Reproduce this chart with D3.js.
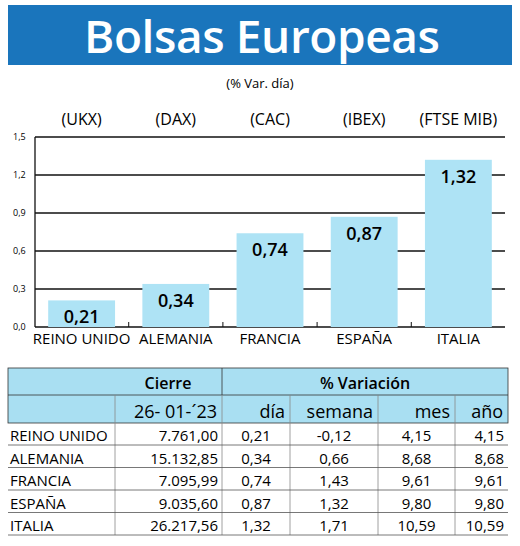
<!DOCTYPE html>
<html><head><meta charset="utf-8">
<script src="https://cdn.jsdelivr.net/npm/d3@7"></script>
<style>body{margin:0;background:#fff}svg{display:block}text{font-family:"Open Sans",sans-serif}.n{font-family:"Liberation Sans Narrow","Open Sans",sans-serif}</style>
</head><body>
<script>
const countries = ['REINO UNIDO', 'ALEMANIA', 'FRANCIA', 'ESPAÑA', 'ITALIA'];
const codes = ['(UKX)', '(DAX)', '(CAC)', '(IBEX)', '(FTSE MIB)'];
const dayVar = [0.21, 0.34, 0.74, 0.87, 1.32];
const yTicks = [0, 0.3, 0.6, 0.9, 1.2, 1.5];
const cierre = ['7.761,00', '15.132,85', '7.095,99', '9.035,60', '26.217,56'];
const dia = ['0,21', '0,34', '0,74', '0,87', '1,32'];
const semana = ['-0,12', '0,66', '1,43', '1,32', '1,71'];
const mes = ['4,15', '8,68', '9,61', '9,80', '10,59'];
const anio = ['4,15', '8,68', '9,61', '9,80', '10,59'];

const fmt = v => d3.format('.2f')(v).replace('.', ',');
const svg = d3.select('body').append('svg').attr('width', 520).attr('height', 546);

// header
svg.append('rect').attr('x', 8).attr('y', 5).attr('width', 504).attr('height', 60).attr('fill', '#1a75bc');
svg.append('text').attr('x', 262).attr('y', 53).attr('text-anchor', 'middle').attr('fill', '#fff')
  .attr('font-size', 46).attr('font-weight', 600).attr('textLength', 356).text('Bolsas Europeas');
svg.append('text').attr('x', 260).attr('y', 88).attr('text-anchor', 'middle').attr('font-size', 13).text('(% Var. día)');

const x = d3.scaleBand().domain(countries).range([35, 505]).paddingInner(0.29).paddingOuter(0.14);
const y = d3.scaleLinear().domain([0, 1.5]).range([327, 137]);

const g = svg.append('g');
g.selectAll('.grid').data(yTicks).join('line')
  .attr('x1', 35).attr('x2', 505).attr('y1', d => y(d)).attr('y2', d => y(d))
  .attr('stroke', '#111').attr('stroke-width', 1.3);
g.append('line').attr('x1', 35).attr('x2', 35).attr('y1', 137).attr('y2', 327).attr('stroke', '#111').attr('stroke-width', 1.3);
g.selectAll('.yl').data(yTicks).join('text')
  .attr('x', 13).attr('y', d => y(d) + 3).attr('font-size', 9).text(d => d3.format('.1f')(d).replace('.', ','));

g.selectAll('.bar').data(countries).join('rect')
  .attr('x', d => x(d)).attr('width', x.bandwidth())
  .attr('y', (d, i) => y(dayVar[i])).attr('height', (d, i) => y(0) - y(dayVar[i]))
  .attr('fill', '#aee3f5');
g.selectAll('.val').data(countries).join('text')
  .attr('x', d => x(d) + x.bandwidth() / 2).attr('y', (d, i) => y(dayVar[i]) + 23)
  .attr('text-anchor', 'middle').attr('font-size', 18).attr('font-weight', 600)
  .text((d, i) => fmt(dayVar[i]));
g.selectAll('.tk').data(countries.slice(1)).join('line')
  .attr('x1', d => x(d) - x.step() * x.paddingInner() / 2).attr('x2', d => x(d) - x.step() * x.paddingInner() / 2)
  .attr('y1', 322).attr('y2', 327).attr('stroke', '#111');
g.selectAll('.cat').data(countries).join('text').attr('class', 'n')
  .attr('x', d => x(d) + x.bandwidth() / 2).attr('y', 344).attr('text-anchor', 'middle')
  .attr('font-size', 15).text(d => d);
g.selectAll('.code').data(codes).join('text')
  .attr('x', (d, i) => x(countries[i]) + x.bandwidth() / 2).attr('y', 125).attr('text-anchor', 'middle')
  .attr('font-size', 16).text(d => d);

// table
const cols = [8, 115, 222, 290, 378, 455, 508];
const t = svg.append('g');
t.append('rect').attr('x', 8).attr('y', 368).attr('width', 500).attr('height', 55).attr('fill', '#a9dff2')
  .attr('stroke', '#333').attr('stroke-width', 0.8);
t.append('line').attr('x1', 8).attr('x2', 508).attr('y1', 395).attr('y2', 395).attr('stroke', '#333').attr('stroke-width', 0.8);
t.append('line').attr('x1', 222).attr('x2', 222).attr('y1', 368).attr('y2', 395).attr('stroke', '#333').attr('stroke-width', 0.8);
t.append('text').attr('x', 168).attr('y', 389).attr('text-anchor', 'middle').attr('font-size', 16).attr('font-weight', 600).text('Cierre');
t.append('text').attr('x', 365).attr('y', 389).attr('text-anchor', 'middle').attr('font-size', 16).attr('font-weight', 600).text('% Variación');
const hdr = ['26- 01-´23', 'día', 'semana', 'mes', 'año'];
hdr.forEach((h, i) => {
  t.append('line').attr('x1', cols[i + 1]).attr('x2', cols[i + 1]).attr('y1', 395).attr('y2', 535)
    .attr('stroke', '#888').attr('stroke-width', 0.8);
  t.append('text').attr('x', cols[i + 2] - 5).attr('y', 418).attr('text-anchor', 'end').attr('font-size', 18).text(h);
});
const rows = countries.map((c, i) => [c, cierre[i], dia[i], semana[i], mes[i], anio[i]]);
const rowY = i => 441 + i * 22.5;
rows.forEach((r, i) => {
  r.forEach((v, j) => {
    const tx = t.append('text').attr('class', 'n').attr('y', rowY(i)).attr('font-size', 15).text(v);
    if (j === 0) tx.attr('x', 10);
    else if (j === 1 || j === 5) tx.attr('x', cols[j + 1] - 4).attr('text-anchor', 'end');
    else tx.attr('x', (cols[j] + cols[j + 1]) / 2).attr('text-anchor', 'middle');
  });
  t.append('line').attr('x1', 8).attr('x2', 508).attr('y1', rowY(i) + 4).attr('y2', rowY(i) + 4)
    .attr('stroke', '#555').attr('stroke-width', 0.8);
});
</script>
</body></html>
